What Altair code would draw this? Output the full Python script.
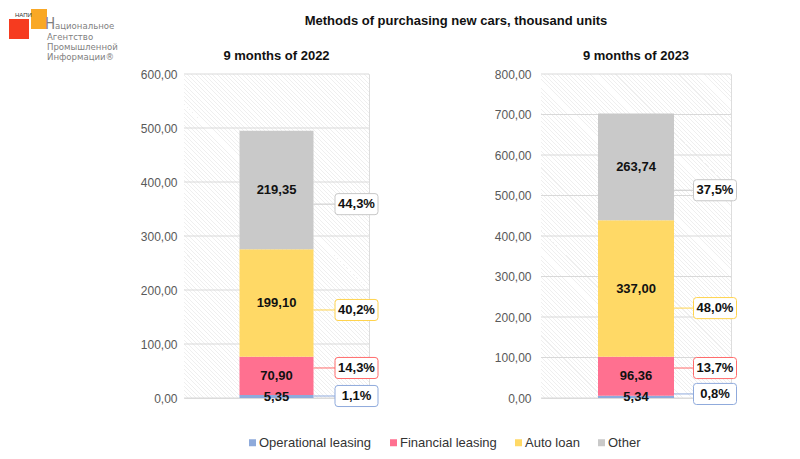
import altair as alt
import pandas as pd

# ---------------- data ----------------
categories = ["Operational leasing", "Financial leasing", "Auto loan", "Other"]
periods = ["9 months of 2022", "9 months of 2023"]
values_2022 = [5.35, 70.90, 199.10, 219.35]
values_2023 = [5.34, 96.36, 337.00, 263.74]
shares_2022 = [1.1, 14.3, 40.2, 44.3]
shares_2023 = [0.8, 13.7, 48.0, 37.5]
y_ticks_2022 = [0, 100, 200, 300, 400, 500, 600]
y_ticks_2023 = [0, 100, 200, 300, 400, 500, 600, 700, 800]
# heights (data units) at which the share call-outs sit
callout_2022 = [3.7, 55.6, 163.0, 359.0]
callout_2023 = [10.0, 74.0, 222.0, 513.0]

title_text = "Methods of purchasing new cars, thousand units"
logo_lines = ["Агентство", "Промышленной", "Информации®"]

# ---------------- style ----------------
FONT = "Liberation Sans"
LOGO_FONT = "'Liberation Sans Narrow', 'DejaVu Sans Condensed', 'Liberation Sans'"
fill_colors = ["#8eaadb", "#ff7090", "#ffd966", "#c9c9c9"]
border_colors = ["#8faadc", "#ff6b6b", "#ffd34d", "#c8c8c8"]
H = 324
BOX = "M-0.86,-0.49 L0.86,-0.49 Q1,-0.49 1,-0.35 L1,0.35 Q1,0.49 0.86,0.49 L-0.86,0.49 Q-1,0.49 -1,0.35 L-1,-0.35 Q-1,-0.49 -0.86,-0.49 Z"


def hatch(w, h, period_px=4.2, line_px=1.0, line="#efefef", bg="#ffffff"):
    """faint diagonal hatching of the plot background as a striped linear gradient"""
    r = h / w
    scale = w * (1 + r * r)
    p = period_px / scale
    lw = line_px / scale
    stops = []
    k = 0
    while k * p < 0.72:
        a = k * p
        stops += [alt.GradientStop(offset=round(a, 6), color=bg),
                  alt.GradientStop(offset=round(a + p - lw, 6), color=bg),
                  alt.GradientStop(offset=round(a + p - lw, 6), color=line),
                  alt.GradientStop(offset=round(a + p, 6), color=line)]
        k += 1
    stops.append(alt.GradientStop(offset=1, color=bg))
    return alt.LinearGradient(gradient="linear", x1=0, y1=1, x2=1, y2=round(1 - r, 6), stops=stops)


def comma(v, nd):
    return f"{v:.{nd}f}".replace(".", ",")


one = pd.DataFrame({"a": [0]})


def panel(period, vals, shares, callouts, ticks, width, bar_w, bar_right, box_left, box_cx, label_pad):
    df = pd.DataFrame({
        "period": [period] * len(categories),
        "category": categories,
        "idx": list(range(len(categories))),
        "value": vals,
        "value_label": [comma(v, 2) for v in vals],
        "share_label": [comma(s, 1) + "%" for s in shares],
        "callout": callouts,
    })
    base = alt.Chart(df)
    yscale = alt.Scale(domain=[ticks[0], ticks[-1]], nice=False)
    bg = alt.Chart(one).mark_rect(fill=hatch(width, H)).encode(
        x=alt.value(0), x2=alt.value(width), y=alt.value(0), y2=alt.value(H))
    grid = alt.Chart(pd.DataFrame({"tick": ticks})).mark_rule(color="#d9d9d9", strokeWidth=1).encode(
        y=alt.Y("tick:Q", title=None, scale=yscale), x=alt.value(0), x2=alt.value(width))
    bars = base.mark_bar(size=bar_w).encode(
        x=alt.X("period:N", axis=None),
        y=alt.Y("value:Q", stack="zero", scale=yscale, title=None,
                axis=alt.Axis(values=ticks, grid=False, ticks=False, tickSize=0, domain=False,
                              labelExpr="replace(format(datum.value, '.2f'), '.', ',')",
                              labelPadding=label_pad, labelFontSize=12, labelFont=FONT,
                              labelColor="#595959")),
        color=alt.Color("category:N", scale=alt.Scale(domain=categories, range=fill_colors),
                        legend=alt.Legend(title=None, orient="none", legendX=62, legendY=362,
                                          direction="horizontal", symbolType="square",
                                          symbolSize=49, symbolStrokeWidth=0, labelFontSize=13,
                                          labelFont=FONT, labelColor="#333333", labelOffset=0,
                                          columnPadding=15, padding=0)),
        order=alt.Order("idx:Q", sort="ascending"),
    )
    texts = base.transform_stack(
        stack="value", groupby=["period"], sort=[alt.SortField("idx", "ascending")], as_=["v0", "v1"]
    ).transform_calculate(mid="(datum.v0 + datum.v1) / 2").mark_text(
        font=FONT, fontSize=13, fontWeight="bold", color="#111111"
    ).encode(
        x=alt.X("period:N", axis=None),
        y=alt.Y("mid:Q", title=None),
        text="value_label:N",
    )
    stroke = alt.Stroke("category:N", scale=alt.Scale(domain=categories, range=border_colors), legend=None)
    rules = base.mark_rule(strokeWidth=1).encode(
        x=alt.value(bar_right), x2=alt.value(box_left), y=alt.Y("callout:Q", title=None), stroke=stroke
    )
    boxes = base.mark_point(shape=BOX, size=43 * 43, filled=True, fill="white", strokeWidth=1, opacity=1).encode(
        x=alt.value(box_cx), y=alt.Y("callout:Q", title=None), stroke=stroke
    )
    pct = base.mark_text(font=FONT, fontSize=13, fontWeight="bold", color="#111111").encode(
        x=alt.value(box_cx), y=alt.Y("callout:Q", title=None), text="share_label:N"
    )
    sub = alt.Chart(pd.DataFrame({"t": [period]})).mark_text(
        font=FONT, fontSize=13, fontWeight="bold", color="#111111"
    ).encode(x=alt.value(width / 2), y=alt.value(-18), text="t:N")
    return [bg, grid, bars, texts, rules, boxes, pct, sub]


logo = [
    alt.Chart(one).mark_rect(color="#f63b1f").encode(
        x=alt.value(-175), x2=alt.value(-155), y=alt.value(-55), y2=alt.value(-35)),
    alt.Chart(one).mark_rect(color="#f9a825").encode(
        x=alt.value(-153), x2=alt.value(-137), y=alt.value(-65), y2=alt.value(-45)),
    alt.Chart(one).mark_text(text="НАПИ", font=FONT, fontSize=6, color="#333333", align="left",
                             baseline="alphabetic").encode(x=alt.value(-169), y=alt.value(-57)),
    alt.Chart(one).mark_text(text="Н", font=LOGO_FONT, fontSize=15, color="#7f7f7f",
                             align="left", baseline="alphabetic").encode(x=alt.value(-139), y=alt.value(-45)),
    alt.Chart(one).mark_text(text="ациональное", font=LOGO_FONT, fontSize=9.5, color="#7f7f7f",
                             align="left", baseline="alphabetic").encode(x=alt.value(-129), y=alt.value(-45)),
]
for line, yy in zip(logo_lines, [-34, -24, -14]):
    logo.append(alt.Chart(one).mark_text(text=line, font=LOGO_FONT, fontSize=9.5,
                                         color="#7f7f7f", align="left", baseline="alphabetic")
                .encode(x=alt.value(-137), y=alt.value(yy)))

main_title = alt.Chart(pd.DataFrame({"t": [title_text]})).mark_text(
    font=FONT, fontSize=13, fontWeight="bold", color="#111111"
).encode(x=alt.value(-85), y=alt.value(-53), text="t:N")

left = alt.layer(*logo, *panel(periods[0], values_2022, shares_2022, callout_2022, y_ticks_2022,
                               185, 74, 129.5, 151, 172.5, 7)).properties(width=185, height=H)
right = alt.layer(main_title, *panel(periods[1], values_2023, shares_2023, callout_2023, y_ticks_2023,
                                     190, 76, 133, 153, 174, 10)).properties(width=190, height=H)

chart = alt.hconcat(left, right, spacing=-77).properties(
    padding=0,
).configure_view(stroke=None).configure(font=FONT)

chart.save("out.html", embed_options={"renderer": "svg", "actions": False})
